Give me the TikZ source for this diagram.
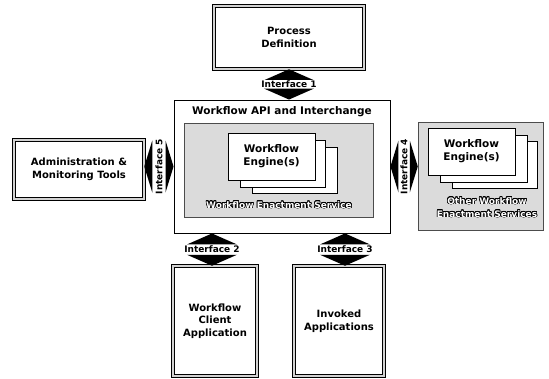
\documentclass[tikz,border=0pt]{standalone}
\usepackage{fontspec}
\setmainfont{DejaVu Sans}
\usepackage{contour}
\contourlength{0.6pt}
\usetikzlibrary{calc}
\begin{document}
\begin{tikzpicture}[x=1pt,y=-1pt,
  dbox/.style={draw, line width=0.5pt, double=gray!35, double distance=2.4pt, fill=white, align=center, font=\bfseries\fontsize{10}{12.5}\selectfont},
  card/.style={draw, line width=0.7pt, fill=white, align=center, font=\bfseries\fontsize{10.5}{13}\selectfont},
  grayarea/.style={draw=gray!60!black, line width=0.4pt, fill=gray!28},
  iflabel/.style={font=\bfseries\fontsize{9}{10}\selectfont, fill=white, inner sep=0.6pt},
  outl/.style={font=\bfseries\fontsize{9}{10}\selectfont, inner sep=0pt},
  head/.style={fill=black}]
\useasboundingbox (0,0) rectangle (549,378);

% Process definition
\node[dbox, minimum width=150pt, minimum height=63pt] (pd) at (289,37.5) {Process\\Definition};

% main box
\node[draw, line width=0.9pt, fill=white, minimum width=216pt, minimum height=133pt] (api) at (282,166.5) {};
\node[font=\bfseries\fontsize{10.5}{12}\selectfont] (apit) at (282,112) {Workflow API and Interchange};
\node[grayarea, minimum width=189pt, minimum height=94pt] (wes) at (278.5,170) {};
\node[card, minimum width=85pt, minimum height=46pt] (eng3) at (294.5,170) {};
\node[card, minimum width=85pt, minimum height=47pt] (eng2) at (282.5,163.5) {};
\node[card, minimum width=87pt, minimum height=47pt] (eng) at (271.5,156.5) {Workflow\\Engine(s)};
\node[outl] (wesl) at (279,205) {\color{white}\contour{black}{Workflow Enactment Service}};

% other enactment services
\node[grayarea, minimum width=125pt, minimum height=108pt] (owes) at (480.5,176) {};
\node[card, minimum width=85pt, minimum height=47pt] (oeng3) at (494.5,164.5) {};
\node[card, minimum width=87pt, minimum height=47pt] (oeng2) at (483.5,158.5) {};
\node[card, minimum width=87pt, minimum height=47pt] (oeng) at (471.5,151.5) {Workflow\\Engine(s)};
\node[outl] (owesl1) at (487,201) {\color{white}\contour{black}{Other Workflow}};
\node[outl] (owesl2) at (487,214) {\color{white}\contour{black}{Enactment Services}};

% admin
\node[dbox, minimum width=130pt, minimum height=59pt] (adm) at (79,169.5) {Administration \&\\Monitoring Tools};

% client / invoked
\node[dbox, minimum width=84pt, minimum height=110pt] (cli) at (215,321) {Workflow\\Client\\Application};
\node[dbox, minimum width=90pt, minimum height=110pt] (inv) at (339,321) {Invoked\\Applications};

% Interface 1
\coordinate (i1t) at (pd.south);
\coordinate (i1b) at (pd.south |- api.north);
\fill[head] (i1t) -- ($(i1t)+(-25,11)$) -- ($(i1t)+(25,11)$) -- cycle;
\fill[head] (i1b) -- ($(i1b)+(-25,-11)$) -- ($(i1b)+(25,-11)$) -- cycle;
\node[iflabel] (i1) at ($(i1t)!0.5!(i1b)$) {Interface 1};

% Interface 2
\coordinate (i2t) at (api.south -| 212,0);
\coordinate (i2b) at (cli.north -| 212,0);
\fill[head] (i2t) -- ($(i2t)+(-25,11)$) -- ($(i2t)+(25,11)$) -- cycle;
\fill[head] (i2b) -- ($(i2b)+(-25,-11)$) -- ($(i2b)+(25,-11)$) -- cycle;
\node[iflabel] (i2) at ($(i2t)!0.5!(i2b)$) {Interface 2};

% Interface 3
\coordinate (i3t) at (api.south -| 345,0);
\coordinate (i3b) at (inv.north -| 345,0);
\fill[head] (i3t) -- ($(i3t)+(-25,11)$) -- ($(i3t)+(25,11)$) -- cycle;
\fill[head] (i3b) -- ($(i3b)+(-25,-11)$) -- ($(i3b)+(25,-11)$) -- cycle;
\node[iflabel] (i3) at ($(i3t)!0.5!(i3b)$) {Interface 3};

% Interface 5
\coordinate (i5l) at (adm.east |- api.west);
\coordinate (i5r) at (api.west);
\fill[head] (i5l) -- ($(i5l)+(8,-26)$) -- ($(i5l)+(8,26)$) -- cycle;
\fill[head] (i5r) -- ($(i5r)+(-8,-26)$) -- ($(i5r)+(-8,26)$) -- cycle;
\node[iflabel, rotate=90] (i5) at ($(i5l)!0.5!(i5r)$) {Interface 5};

% Interface 4
\coordinate (i4l) at (api.east);
\coordinate (i4r) at (owes.west |- api.east);
\fill[head] (i4l) -- ($(i4l)+(8,-26)$) -- ($(i4l)+(8,26)$) -- cycle;
\fill[head] (i4r) -- ($(i4r)+(-8,-26)$) -- ($(i4r)+(-8,26)$) -- cycle;
\node[iflabel, rotate=90] (i4) at ($(i4l)!0.5!(i4r)$) {Interface 4};
\end{tikzpicture}
\end{document}
